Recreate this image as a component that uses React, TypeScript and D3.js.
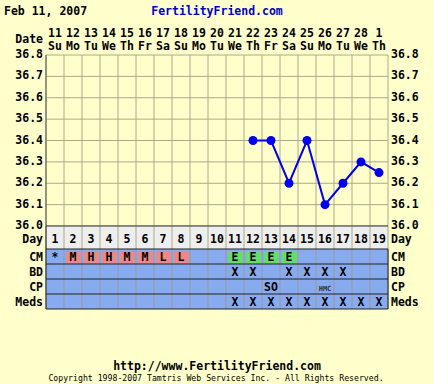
import React from "react";
import * as d3 from "d3";

const dates = ["11","12","13","14","15","16","17","18","19","20","21","22","23","24","25","26","27","28","1"];
const weekdays = ["Su","Mo","Tu","We","Th","Fr","Sa","Su","Mo","Tu","We","Th","Fr","Sa","Su","Mo","Tu","We","Th"];
const cycleDays = [1,2,3,4,5,6,7,8,9,10,11,12,13,14,15,16,17,18,19];
const temps: (number | null)[] = [null,null,null,null,null,null,null,null,null,null,null,36.4,36.4,36.2,36.4,36.1,36.2,36.3,36.25];
const cm = ["*","M","H","H","M","M","L","L","","","E","E","E","E","","","","",""];
const bd = ["","","","","","","","","","","X","X","","X","X","X","X","",""];
const cp = ["","","","","","","","","","","","","SO","","","HMC","","",""];
const meds = ["","","","","","","","","","","X","X","X","X","X","X","X","X","X"];
const yTicks = [36.0,36.1,36.2,36.3,36.4,36.5,36.6,36.7,36.8];

const W = 434, H = 384;
const left = 46, right = 388, top = 55, bottom = 226;
const rowH = 15;
const dayTop = 226, dayBottom = 249;
const font = "'DejaVu Sans Mono', monospace";
const fs = 11.5;

export default function App() {
  const x = d3.scaleBand<number>().domain(d3.range(19)).range([left, right]);
  const y = d3.scaleLinear().domain([36.0, 36.8]).range([bottom, top]);
  const bw = x.bandwidth();
  const cx = (i: number) => (x(i) as number) + bw / 2;
  const pts = temps.map((t, i) => ({ t, i })).filter(d => d.t !== null) as { t: number; i: number }[];
  const line = d3.line<{ t: number; i: number }>().x(d => cx(d.i)).y(d => y(d.t));
  const rows = [
    { name: "CM", data: cm },
    { name: "BD", data: bd },
    { name: "CP", data: cp },
    { name: "Meds", data: meds },
  ];
  const grid = "#aaa98a";
  return (
    <svg width={W} height={H} style={{ position: "absolute", left: 0, top: 0, background: "#ffffcc" }} fontFamily={font} fontWeight="bold">
      <rect x={0} y={0} width={W} height={H} fill="#ffffcc" />
      <text x={4} y={15} fontSize={fs} fill="#000">Feb 11, 2007</text>
      <text x={217} y={15} fontSize={fs} fill="#0000cc" textAnchor="middle">FertilityFriend.com</text>
      <text x={43} y={43} fontSize={fs} textAnchor="end">Date</text>
      {dates.map((d, i) => (
        <text key={"d" + i} x={cx(i)} y={37} fontSize={fs} textAnchor="middle">{d}</text>
      ))}
      {weekdays.map((d, i) => (
        <text key={"w" + i} x={cx(i)} y={50} fontSize={fs} textAnchor="middle">{d}</text>
      ))}
      {yTicks.map((t, i) => (
        <line key={"h" + i} x1={left} x2={right} y1={y(t)} y2={y(t)} stroke={grid} strokeWidth={1} />
      ))}
      {d3.range(20).map(i => {
        const xx = i < 19 ? (x(i) as number) : right;
        return <line key={"v" + i} x1={xx} x2={xx} y1={top} y2={bottom} stroke={grid} strokeWidth={1} />;
      })}
      <line x1={left} x2={left} y1={top} y2={bottom} stroke="#555" strokeWidth={1} />
      {yTicks.map((t, i) => (
        <g key={"yl" + i}>
          <text x={43} y={y(t) + 3} fontSize={fs} textAnchor="end">{t.toFixed(1)}</text>
          <text x={391} y={y(t) + 3} fontSize={fs}>{t.toFixed(1)}</text>
        </g>
      ))}
      <rect x={left} y={dayTop} width={right - left} height={dayBottom - dayTop} fill="#eeeeee" />
      {d3.range(20).map(i => {
        const xx = i < 19 ? (x(i) as number) : right;
        return <line key={"dv" + i} x1={xx} x2={xx} y1={dayTop} y2={dayBottom} stroke={grid} strokeWidth={1} />;
      })}
      {cycleDays.map((d, i) => (
        <text key={"cd" + i} x={cx(i)} y={243} fontSize={fs} textAnchor="middle">{d}</text>
      ))}
      <text x={43} y={243} fontSize={fs} textAnchor="end">Day</text>
      <text x={391} y={243} fontSize={fs}>Day</text>
      {rows.map((r, ri) => {
        const ry = dayBottom + ri * rowH;
        return (
          <g key={r.name}>
            <rect x={left} y={ry} width={right - left} height={rowH} fill="#88aaee" />
            {r.data.map((v, i) => {
              const xx = x(i) as number;
              let bg: string | null = null;
              if (r.name === "CM" && v && v !== "*") bg = v === "E" ? "#66dd66" : "#ee8888";
              return (
                <g key={i}>
                  {bg && <rect x={xx + 2} y={ry + 2} width={bw - 3} height={rowH - 3} fill={bg} />}
                  {v && (
                    <text x={cx(i)} y={ry + 11.5} fontSize={v === "HMC" ? 7 : fs} textAnchor="middle"
                      fill={v === "HMC" ? "#333" : "#000"}>{v}</text>
                  )}
                </g>
              );
            })}
            {d3.range(20).map(i => {
              const xx = i < 19 ? (x(i) as number) : right;
              return <line key={"rv" + i} x1={xx} x2={xx} y1={ry} y2={ry + rowH} stroke="#999" strokeWidth={1} />;
            })}
            <line x1={left} x2={right} y1={ry} y2={ry} stroke="#222" strokeWidth={1} />
            <text x={43} y={ry + 11.5} fontSize={fs} textAnchor="end">{r.name}</text>
            <text x={391} y={ry + 11.5} fontSize={fs}>{r.name}</text>
          </g>
        );
      })}
      <line x1={left} x2={right} y1={dayBottom + 4 * rowH} y2={dayBottom + 4 * rowH} stroke="#222" strokeWidth={1} />
      <line x1={left} x2={left} y1={dayTop} y2={dayBottom + 4 * rowH} stroke="#222" strokeWidth={1} />
      <line x1={right} x2={right} y1={dayBottom} y2={dayBottom + 4 * rowH} stroke="#222" strokeWidth={1} />
      <line x1={left} x2={right} y1={dayTop} y2={dayTop} stroke="#333" strokeWidth={1} />
      <path d={line(pts) || ""} fill="none" stroke="#0000ee" strokeWidth={2} />
      {pts.map(p => (
        <circle key={"p" + p.i} cx={cx(p.i)} cy={y(p.t)} r={4.5} fill="#0000ee" />
      ))}
      <text x={217} y={370} fontSize={fs} textAnchor="middle">http://www.FertilityFriend.com</text>
      <text x={216} y={381} fontSize={8.2} fontWeight="normal" textAnchor="middle">Copyright 1998-2007 Tamtris Web Services Inc. - All Rights Reserved.</text>
    </svg>
  );
}
